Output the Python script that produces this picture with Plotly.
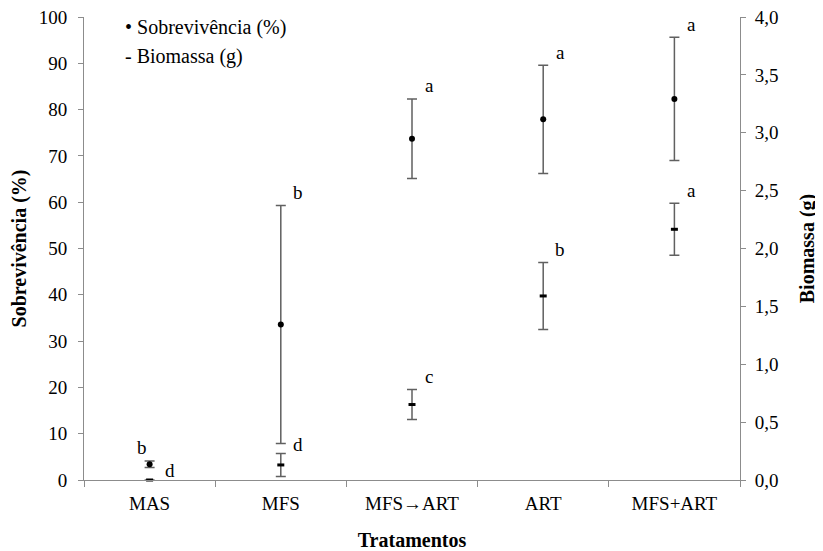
import plotly.graph_objects as go

categories = ["MAS", "MFS", "MFS\u2192ART", "ART", "MFS+ART"]
surv = [3.4, 33.6, 73.7, 77.9, 82.3]
surv_err = [0.7, 25.7, 8.6, 11.7, 13.3]
surv_letters = ["b", "b", "a", "a", "a"]
bio = [0.0, 0.13, 0.652, 1.59, 2.166]
bio_err = [0.0, 0.1, 0.13, 0.29, 0.225]
bio_letters = ["d", "d", "c", "b", "a"]
legend_labels = ["\u2022 Sobreviv\u00eancia (%)", "- Biomassa (g)"]

FONT = "Liberation Serif"
GREY = "#8c8c8c"
EB = "#606060"

fig = go.Figure()
fig.add_trace(go.Scatter(
    x=categories, y=surv, mode="markers", name="Sobreviv\u00eancia (%)",
    marker=dict(symbol="circle", size=6, color="black"),
    error_y=dict(type="data", array=surv_err, color=EB, thickness=1.5, width=5),
    cliponaxis=False, yaxis="y", showlegend=False))
fig.add_trace(go.Scatter(
    x=categories, y=bio, mode="markers", name="Biomassa (g)",
    marker=dict(symbol="line-ew", size=5, color="black", line=dict(width=3, color="black")),
    error_y=dict(type="data", array=bio_err, color=EB, thickness=1.5, width=5),
    cliponaxis=False, yaxis="y2", showlegend=False))

ann = []
for i, c in enumerate(categories):
    if i == 0:
        ann.append(dict(x=c, y=surv[i] + surv_err[i], yref="y", text=surv_letters[i],
                        xshift=-8, yshift=14, showarrow=False))
        ann.append(dict(x=c, y=bio[i], yref="y2", text=bio_letters[i],
                        xshift=20, yshift=10, showarrow=False))
    else:
        ann.append(dict(x=c, y=surv[i] + surv_err[i], yref="y", text=surv_letters[i],
                        xshift=17, yshift=13, showarrow=False))
        ann.append(dict(x=c, y=bio[i] + bio_err[i], yref="y2", text=bio_letters[i],
                        xshift=17, yshift=9 if i == 1 else 13, showarrow=False))
for a in ann:
    a["xref"] = "x"
    a["font"] = dict(family=FONT, size=19, color="black")

for k, lab in enumerate(legend_labels):
    ann.append(dict(x=0.06, y=1.0 - k * 0.064, xref="paper", yref="paper", xanchor="left",
                    yanchor="middle", text=lab, showarrow=False, yshift=-10,
                    font=dict(family=FONT, size=20, color="black")))

fig.update_layout(
    width=815, height=543,
    margin=dict(l=76, r=83, t=9, b=71),
    paper_bgcolor="white", plot_bgcolor="white",
    font=dict(family=FONT, size=19, color="black"),
    separators=",.",
    showlegend=False,
    xaxis=dict(type="category", range=[-0.5, 4.5], showline=True, linecolor=GREY, linewidth=1,
               ticks="outside", tickcolor=GREY, ticklen=6, tickson="boundaries",
               showgrid=False, zeroline=False, automargin=False, ticklabelstandoff=6,
               ticklabeloverflow="allow", tickfont=dict(family=FONT, size=19),
               title=dict(text="<b>Tratamentos</b>", font=dict(family=FONT, size=20), standoff=24)),
    yaxis=dict(range=[0, 100], tickvals=list(range(0, 101, 10)), showline=True,
               linecolor=GREY, linewidth=1, ticks="outside", tickcolor=GREY, ticklen=5,
               showgrid=False, zeroline=False, automargin=False, ticklabelstandoff=7,
               ticklabeloverflow="allow", tickfont=dict(family=FONT, size=19),
               title=dict(text="<b>Sobreviv\u00eancia (%)</b>", font=dict(family=FONT, size=20), standoff=18)),
    yaxis2=dict(range=[0, 4], tickvals=[0, 0.5, 1, 1.5, 2, 2.5, 3, 3.5, 4], tickformat=".1f",
                overlaying="y", side="right", showline=True, linecolor=GREY, linewidth=1,
                ticks="outside", tickcolor=GREY, ticklen=5, showgrid=False, zeroline=False,
                automargin=False, ticklabelstandoff=5, ticklabeloverflow="allow",
                tickfont=dict(family=FONT, size=19),
                title=dict(text="<b>Biomassa (g)</b>", font=dict(family=FONT, size=20), standoff=22)),
    annotations=ann,
)

fig.write_html("out.html")
